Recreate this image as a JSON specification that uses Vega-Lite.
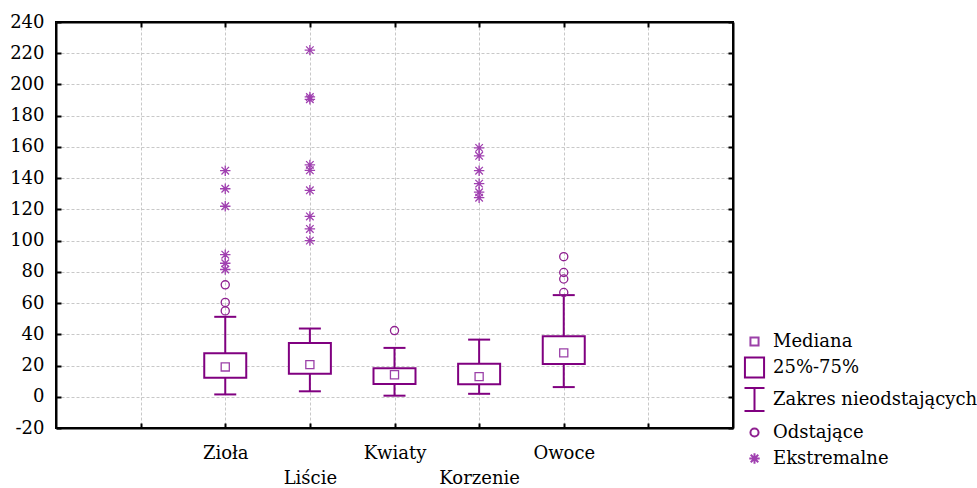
{
  "$schema": "https://vega.github.io/schema/vega-lite/v6.json",
  "width": 677,
  "height": 406,
  "autosize": {"type": "none"},
  "padding": {"left": 56, "top": 22, "right": 244, "bottom": 60},
  "background": "white",
  "config": {
    "view": {"stroke": "black", "strokeWidth": 2},
    "font": "DejaVu Serif",
    "axis": {
      "labelFont": "DejaVu Serif",
      "labelFontSize": 18,
      "labelColor": "black",
      "domainColor": "black",
      "domainWidth": 2,
      "tickColor": "black",
      "tickWidth": 2,
      "tickSize": -5,
      "gridColor": "#c8c8c8",
      "gridDash": [3, 2],
      "gridWidth": 1,
      "title": null
    }
  },
  "datasets": {
    "boxes": [
      {"cat": "Zioła", "q1": 12.2, "q3": 27.9, "lo": 1.5, "hi": 51.2},
      {"cat": "Liście", "q1": 14.8, "q3": 34.5, "lo": 3.5, "hi": 43.7},
      {"cat": "Kwiaty", "q1": 8.2, "q3": 18.2, "lo": 0.7, "hi": 31.3},
      {"cat": "Korzenie", "q1": 8.0, "q3": 21.2, "lo": 1.9, "hi": 36.6},
      {"cat": "Owoce", "q1": 21.0, "q3": 38.8, "lo": 6.2, "hi": 65.1}
    ],
    "pts": [
      {"cat": "Zioła", "v": 19.1, "type": "Mediana"},
      {"cat": "Zioła", "v": 55.0, "type": "Odstające"},
      {"cat": "Zioła", "v": 60.4, "type": "Odstające"},
      {"cat": "Zioła", "v": 71.7, "type": "Odstające"},
      {"cat": "Zioła", "v": 81.5, "type": "Ekstremalne"},
      {"cat": "Zioła", "v": 85.5, "type": "Ekstremalne"},
      {"cat": "Zioła", "v": 91.0, "type": "Ekstremalne"},
      {"cat": "Zioła", "v": 122.0, "type": "Ekstremalne"},
      {"cat": "Zioła", "v": 133.2, "type": "Ekstremalne"},
      {"cat": "Zioła", "v": 144.8, "type": "Ekstremalne"},
      {"cat": "Liście", "v": 20.6, "type": "Mediana"},
      {"cat": "Liście", "v": 100.0, "type": "Ekstremalne"},
      {"cat": "Liście", "v": 107.5, "type": "Ekstremalne"},
      {"cat": "Liście", "v": 115.5, "type": "Ekstremalne"},
      {"cat": "Liście", "v": 132.2, "type": "Ekstremalne"},
      {"cat": "Liście", "v": 145.0, "type": "Ekstremalne"},
      {"cat": "Liście", "v": 148.5, "type": "Ekstremalne"},
      {"cat": "Liście", "v": 190.5, "type": "Ekstremalne"},
      {"cat": "Liście", "v": 192.0, "type": "Ekstremalne"},
      {"cat": "Liście", "v": 222.0, "type": "Ekstremalne"},
      {"cat": "Kwiaty", "v": 14.1, "type": "Mediana"},
      {"cat": "Kwiaty", "v": 42.4, "type": "Odstające"},
      {"cat": "Korzenie", "v": 12.9, "type": "Mediana"},
      {"cat": "Korzenie", "v": 127.5, "type": "Ekstremalne"},
      {"cat": "Korzenie", "v": 131.0, "type": "Ekstremalne"},
      {"cat": "Korzenie", "v": 136.5, "type": "Ekstremalne"},
      {"cat": "Korzenie", "v": 144.8, "type": "Ekstremalne"},
      {"cat": "Korzenie", "v": 154.3, "type": "Ekstremalne"},
      {"cat": "Korzenie", "v": 159.4, "type": "Ekstremalne"},
      {"cat": "Owoce", "v": 28.1, "type": "Mediana"},
      {"cat": "Owoce", "v": 66.8, "type": "Odstające"},
      {"cat": "Owoce", "v": 75.4, "type": "Odstające"},
      {"cat": "Owoce", "v": 79.6, "type": "Odstające"},
      {"cat": "Owoce", "v": 89.7, "type": "Odstające"}
    ]
  },
  "layer": [
    {
      "data": {"name": "boxes"},
      "mark": {"type": "rule", "color": "#800080", "strokeWidth": 2},
      "encoding": {
        "x": {
          "field": "cat", "type": "nominal",
          "scale": {"type": "point", "domain": [" ", "Zioła", "Liście", "Kwiaty", "Korzenie", "Owoce", "  "], "padding": 1},
          "axis": {"orient": "top", "labels": false, "grid": false, "ticks": true, "domain": true}
        },
        "y": {
          "field": "lo", "type": "quantitative",
          "scale": {"domain": [-20, 240], "nice": false, "zero": false},
          "axis": {"orient": "right", "labels": false, "grid": false, "values": [-20, 0, 20, 40, 60, 80, 100, 120, 140, 160, 180, 200, 220, 240]}
        },
        "y2": {"field": "hi"}
      }
    },
    {
      "data": {"name": "boxes"},
      "mark": {"type": "tick", "orient": "horizontal", "size": 22, "thickness": 2, "color": "#800080", "opacity": 1},
      "encoding": {
        "x": {"field": "cat", "type": "nominal", "axis": null},
        "y": {"field": "lo", "type": "quantitative", "axis": null}
      }
    },
    {
      "data": {"name": "boxes"},
      "mark": {"type": "tick", "orient": "horizontal", "size": 22, "thickness": 2, "color": "#800080", "opacity": 1},
      "encoding": {
        "x": {"field": "cat", "type": "nominal", "axis": null},
        "y": {"field": "hi", "type": "quantitative", "axis": null}
      }
    },
    {
      "data": {"name": "boxes"},
      "mark": {"type": "bar", "size": 42, "fill": "white", "stroke": "#800080", "strokeWidth": 2, "opacity": 1},
      "encoding": {
        "x": {
          "field": "cat", "type": "nominal",
          "axis": {
            "orient": "bottom", "grid": true, "labelAngle": 0, "labelPadding": 21, "labelLineHeight": 25,
            "labelExpr": "(datum.value == 'Liście' || datum.value == 'Korzenie') ? ['', datum.value] : datum.value"
          }
        },
        "y": {
          "field": "q1", "type": "quantitative",
          "axis": {"orient": "left", "grid": true, "labelPadding": 17, "values": [-20, 0, 20, 40, 60, 80, 100, 120, 140, 160, 180, 200, 220, 240], "labelExpr": "'' + datum.value"}
        },
        "y2": {"field": "q3"}
      }
    },
    {
      "data": {"name": "pts"},
      "mark": {"type": "point", "filled": false, "size": 841, "strokeWidth": 1.3, "opacity": 1},
      "encoding": {
        "x": {"field": "cat", "type": "nominal", "axis": null},
        "y": {"field": "v", "type": "quantitative", "axis": null},
        "shape": {
          "field": "type", "type": "nominal",
          "scale": {
            "domain": ["Mediana", "25%-75%", "Zakres nieodstających", "Odstające", "Ekstremalne"],
            "range": [
              "M-0.28,-0.28H0.28V0.28H-0.28Z",
              "M-0.66,-0.69H0.66V0.69H-0.66Z",
              "M-0.69,-0.8H0.69M0,-0.8V0.8M-0.69,0.8H0.69",
              "M-0.28,0A0.28,0.28,0,1,0,0.28,0A0.28,0.28,0,1,0,-0.28,0Z",
              "M-0.36,0H0.36M0,-0.36V0.36M-0.26,-0.26L0.26,0.26M-0.26,0.26L0.26,-0.26"
            ]
          },
          "legend": {
            "title": null, "orient": "none", "legendX": 683, "legendY": 304,
            "labelFont": "DejaVu Serif", "labelFontSize": 18, "labelColor": "black", "labelLimit": 400,
            "symbolSize": 841, "rowPadding": 1, "padding": 0, "labelOffset": 3, "symbolStrokeWidth": 2
          }
        },
        "color": {
          "field": "type", "type": "nominal",
          "scale": {
            "domain": ["Mediana", "25%-75%", "Zakres nieodstających", "Odstające", "Ekstremalne"],
            "range": ["#9b40a8", "#800080", "#800080", "#8f2090", "#a040b0"]
          }
        }
      }
    }
  ],
  "resolve": {"axis": {"x": "independent", "y": "independent"}}
}
